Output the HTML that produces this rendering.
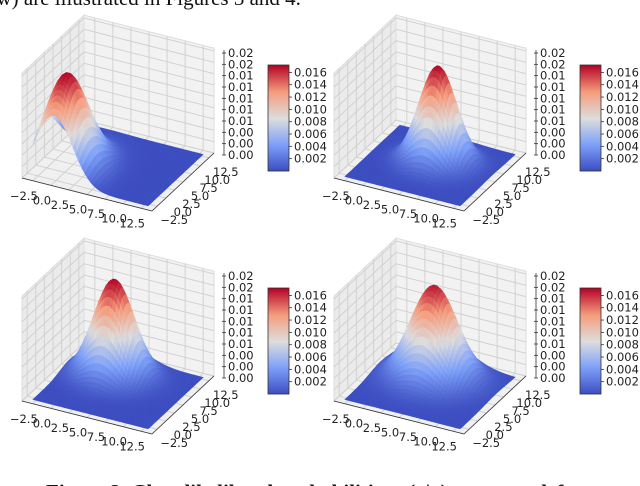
<!DOCTYPE html>
<html><head><meta charset="utf-8"><style>
body{margin:0;width:640px;height:486px;overflow:hidden;background:#fff}
svg{display:block}
.t{font-family:"DejaVu Sans",sans-serif;font-size:11.5px;fill:#222}
</style></head><body>
<svg id="s" width="640" height="486" viewBox="0 0 640 486">
<text x="-14" y="5" style="font-family:'Liberation Serif',serif;font-size:21px" fill="#111">ow) are illustrated in Figures 3 and 4.</text>
<text x="46" y="499" style="font-family:'Liberation Serif',serif;font-size:21px;font-weight:bold" fill="#111">Figure 2. Class likelihood probabilities p(y|x): top row: left</text>
</svg>
<script>
const panelNames=['top-left','top-right','bottom-left','bottom-right'];
const panelMeanX=[0,5.6,3.2,4.4];
const panelMeanY=[0.5,6,7.6,7.4];
const panelSigmaX=[2.5,2.4,2.6,3];
const panelSigmaY=[4,2.4,2.6,3];
const panelPeak=[0.0172,0.0172,0.0172,0.0166];
const xTicks=[-2.5,0,2.5,5,7.5,10,12.5];
const yTicks=[-2.5,0,2.5,5,7.5,10,12.5];
const zTicks=[0,0.002,0.004,0.006,0.008,0.01,0.012,0.014,0.016,0.018];
const cbTicks=[0.002,0.004,0.006,0.008,0.01,0.012,0.014,0.016];
const S=document.getElementById('s');const NS='http://www.w3.org/2000/svg';
const offs=[[0,0],[312,0],[0,223],[312,223]];
const XMIN=-4,XMAX=14,YMIN=-4,YMAX=14,ZS=5667;
function cmap(t){t=Math.max(0,Math.min(1,t));const st=[[0,59,76,192],[0.25,124,159,249],[0.5,221,221,221],[0.75,245,156,125],[1,180,4,38]];
for(let i=0;i<4;i++){if(t<=st[i+1][0]){const f=(t-st[i][0])/(st[i+1][0]-st[i][0]);return 'rgb('+[1,2,3].map(k=>Math.round(st[i][k]+f*(st[i+1][k]-st[i][k]))).join(',')+')';}}return 'rgb(180,4,38)';}
function mk(tag,at,parent){const e=document.createElementNS(NS,tag);for(const k in at)e.setAttribute(k,at[k]);(parent||S).appendChild(e);return e;}
panelNames.forEach((nm,p)=>{
const [ox,oy]=offs[p];
const g=mk('g',{});


const P=(x,y,z)=>{const u=(x-XMIN)/(XMAX-XMIN),v=(y-YMIN)/(YMAX-YMIN);return [ox+22+130*u+62*v,oy+178+33*u-58*v-z*ZS];};
const pt=a=>a.map(q=>q[0].toFixed(1)+','+q[1].toFixed(1)).join(' ');
const ZT=0.0185;
mk('polygon',{points:pt([P(XMIN,YMIN,0),P(XMAX,YMIN,0),P(XMAX,YMAX,0),P(XMIN,YMAX,0)]),fill:'#f0f0f0',stroke:'#ddd'},g);
mk('polygon',{points:pt([P(XMIN,YMAX,0),P(XMAX,YMAX,0),P(XMAX,YMAX,ZT),P(XMIN,YMAX,ZT)]),fill:'#f2f2f2',stroke:'#ddd'},g);
mk('polygon',{points:pt([P(XMIN,YMIN,0),P(XMIN,YMAX,0),P(XMIN,YMAX,ZT),P(XMIN,YMIN,ZT)]),fill:'#ebebeb',stroke:'#ddd'},g);
const gl=(a,b)=>mk('line',{x1:a[0],y1:a[1],x2:b[0],y2:b[1],stroke:'#cfcfcf','stroke-width':0.9},g);
xTicks.forEach(x=>{gl(P(x,YMIN,0),P(x,YMAX,0));gl(P(x,YMAX,0),P(x,YMAX,ZT));});
yTicks.forEach(y=>{gl(P(XMIN,y,0),P(XMAX,y,0));gl(P(XMIN,y,0),P(XMIN,y,ZT));});
zTicks.forEach(z=>{gl(P(XMIN,YMIN,z),P(XMIN,YMAX,z));gl(P(XMIN,YMAX,z),P(XMAX,YMAX,z));});
const N=40,x0=-3,x1=13,y0=-3,y1=13;
const f=(x,y)=>panelPeak[p]*Math.exp(-((x-panelMeanX[p])**2)/(2*panelSigmaX[p]**2)-((y-panelMeanY[p])**2)/(2*panelSigmaY[p]**2));
const quads=[];
for(let i=0;i<N;i++)for(let j=0;j<N;j++){const xa=x0+(x1-x0)*i/N,xb=x0+(x1-x0)*(i+1)/N,ya=y0+(y1-y0)*j/N,yb=y0+(y1-y0)*(j+1)/N;
const zs=[f(xa,ya),f(xb,ya),f(xb,yb),f(xa,yb)];const zm=(zs[0]+zs[1]+zs[2]+zs[3])/4;
quads.push({d:(i-j),pts:[P(xa,ya,zs[0]),P(xb,ya,zs[1]),P(xb,yb,zs[2]),P(xa,yb,zs[3])],c:cmap(zm/0.0172)});}
quads.sort((a,b)=>a.d-b.d);
const sg=mk('g',{},g);


quads.forEach(q=>mk('polygon',{points:pt(q.pts),fill:q.c,stroke:q.c,'stroke-width':0.4},sg));
const al=(a,b)=>mk('line',{x1:a[0],y1:a[1],x2:b[0],y2:b[1],stroke:'#333','stroke-width':0.8},g);
al(P(XMIN,YMIN,0),P(XMAX,YMIN,0));al(P(XMAX,YMIN,0),P(XMAX,YMAX,0));
const zb=P(XMAX,YMAX,0);mk('line',{x1:zb[0]+10,y1:zb[1]+2,x2:zb[0]+10,y2:zb[1]+2-ZT*ZS,stroke:'#333','stroke-width':0.8},g);
xTicks.forEach(x=>{const q=P(x,YMIN,0);const t=mk('text',{x:q[0]-9,y:q[1]+19,class:'t','text-anchor':'middle'},g);t.textContent=x.toFixed(1).replace('-','\u2212');

});
yTicks.forEach(y=>{const q=P(XMAX,y,0);const t=mk('text',{x:q[0]+17,y:q[1]+18,class:'t','text-anchor':'middle'},g);t.textContent=y.toFixed(1).replace('-','\u2212');

});
zTicks.forEach(z=>{const y=zb[1]+2-z*ZS;mk('line',{x1:zb[0]+8,y1:y,x2:zb[0]+12,y2:y,stroke:'#333','stroke-width':0.8},g);
const t=mk('text',{x:zb[0]+14,y:y+4,class:'t'},g);t.textContent=z.toFixed(2);

});
const cx=ox+268,cy=oy+65,cw=21,ch=106,vmax=0.0172;
const cb=mk('g',{},g);


for(let k=0;k<ch;k++){mk('rect',{x:cx,y:cy+k,width:cw,height:1.2,fill:cmap(1-k/ch)},cb);}
mk('rect',{x:cx,y:cy,width:cw,height:ch,fill:'none',stroke:'#333','stroke-width':0.8},cb);
cbTicks.forEach(v=>{const y=cy+ch-v/vmax*ch;mk('line',{x1:cx+cw,y1:y,x2:cx+cw+3,y2:y,stroke:'#333','stroke-width':0.8},cb);
const t=mk('text',{x:cx+cw+5,y:y+4,class:'t'},cb);t.textContent=v.toFixed(3);

});
});
</script>
</body></html>
